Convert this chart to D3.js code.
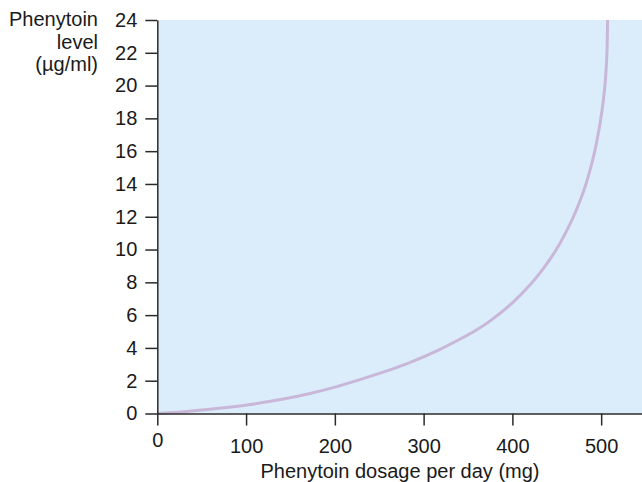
<!DOCTYPE html>
<html>
<head>
<meta charset="utf-8">
<script src="https://cdn.jsdelivr.net/npm/d3@7"></script>
<style>
html, body { margin: 0; padding: 0; background: #ffffff; }
svg { display: block; }
text { font-family: "Liberation Sans", Arial, Helvetica, sans-serif; fill: #1a1a1a; }
</style>
</head>
<body>
<svg id="chart" width="642" height="482"></svg>
<script>
// Data
const dosage = [0, 30, 67, 93, 105, 142, 172, 198, 230, 262, 285, 318, 338, 358, 375, 400, 420, 435, 450, 467, 476, 482, 488, 493, 497.5, 501, 503.3, 505, 506.5, 507.2];
const level  = [0, 0.11, 0.3, 0.46, 0.55, 0.88, 1.22, 1.58, 2.1, 2.66, 3.12, 3.9, 4.45, 5.05, 5.65, 6.75, 7.85, 8.85, 10.05, 11.8, 12.95, 13.85, 14.95, 16.05, 17.3, 18.5, 19.5, 20.5, 22, 24];
const xTicks = [0, 100, 200, 300, 400, 500];
const yTicks = [0, 2, 4, 6, 8, 10, 12, 14, 16, 18, 20, 22, 24];
const yTitleLines = ["Phenytoin", "level", "(\u00b5g/ml)"];
const xTitle = "Phenytoin dosage per day (mg)";

const svg = d3.select("#chart");
const x = d3.scaleLinear().domain([0, 546]).range([157.3, 642]);
const y = d3.scaleLinear().domain([0, 24]).range([413.5, 20]);

// plot background
svg.append("rect")
  .attr("x", x(0)).attr("y", y(24))
  .attr("width", x(546) - x(0)).attr("height", y(0) - y(24))
  .attr("fill", "#dbedfb");

// curve
const pts = dosage.map((d, i) => [d, level[i]]);
svg.append("path")
  .datum(pts)
  .attr("fill", "none")
  .attr("stroke", "#c8b7d8")
  .attr("stroke-width", 3)
  .attr("d", d3.line().x(d => x(d[0])).y(d => y(d[1])).curve(d3.curveCatmullRom.alpha(0.5)));

const fs = 20;
// y axis
const yAxis = svg.append("g")
  .attr("transform", `translate(${x(0)},0)`)
  .call(d3.axisLeft(y).tickValues(yTicks).tickSize(12).tickSizeOuter(0).tickPadding(8).tickFormat(d3.format("d")));
yAxis.selectAll("text").style("font-size", fs + "px").attr("fill", "#1a1a1a");
yAxis.selectAll("line, path").attr("stroke", "#2a2a2a").attr("stroke-width", 1.5);

// x axis
const xAxis = svg.append("g")
  .attr("transform", `translate(0,${y(0)})`)
  .call(d3.axisBottom(x).tickValues(xTicks).tickSize(12).tickSizeOuter(0).tickPadding(13).tickFormat(d3.format("d")));
xAxis.selectAll("text").style("font-size", fs + "px").attr("fill", "#1a1a1a");
xAxis.selectAll("line, path").attr("stroke", "#2a2a2a").attr("stroke-width", 1.5);
xAxis.selectAll(".tick").filter(d => d === 0).select("text").attr("y", 19);

// y title
svg.append("text")
  .attr("text-anchor", "end")
  .style("font-size", fs + "px")
  .selectAll("tspan").data(yTitleLines).join("tspan")
  .attr("x", 98)
  .attr("y", (d, i) => 26 + i * 22.5)
  .text(d => d);

// x title
svg.append("text")
  .attr("x", 400).attr("y", 478)
  .attr("text-anchor", "middle")
  .style("font-size", fs + "px")
  .text(xTitle);
</script>
</body>
</html>
